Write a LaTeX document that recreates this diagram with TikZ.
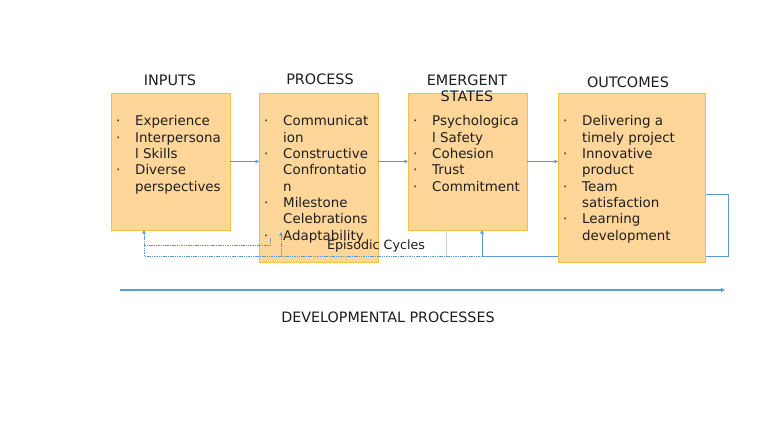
\documentclass[tikz,border=0pt]{standalone}
\usepackage{fontspec}
\setmainfont{DejaVu Sans}
\usetikzlibrary{arrows.meta}
\definecolor{boxfill}{HTML}{FFD699}
\definecolor{boxline}{HTML}{F4C048}
\definecolor{flowc}{HTML}{5B9BD5}
\definecolor{faintc}{HTML}{BDD7EE}
\definecolor{txt}{HTML}{1E1E1E}
\newcommand{\bodyfont}{\fontsize{13.4}{16.3}\selectfont}
\begin{document}
\begin{tikzpicture}[x=1pt,y=-1pt,
  box/.style={draw=boxline, fill=boxfill, line width=0.9pt, anchor=north west, inner sep=0pt, outer sep=0pt},
  body/.style={anchor=base west, inner sep=0pt, text=txt, font=\bodyfont},
  ttl/.style={anchor=base, inner sep=0pt, text=txt, font=\fontsize{14.4}{16}\selectfont},
  flow/.style={draw=flowc, line width=0.8pt, -{Triangle[length=3.5pt,width=3.5pt]}},
  flowdot/.style={draw=flowc, line width=0.9pt, dash pattern=on 1.5pt off 0.8pt},
  tipup/.style={-{Triangle[length=3.5pt,width=3.5pt]}}]
\useasboundingbox (0,0) rectangle (768,433);
\fill[white] (0,0) rectangle (768,433);

% boxes
\node[box, minimum width=119pt, minimum height=137pt] (in) at (111,93) {};
\node[box, minimum width=119pt, minimum height=169pt] (proc) at (259,93) {};
\node[box, minimum width=119pt, minimum height=137pt] (em) at (408,93) {};

% coordinates for the feedback loops
\coordinate (fbR) at (705,194);
\coordinate (cR) at (728,194);
\coordinate (cRb) at (728,256);
\coordinate (xE) at (482,256);
\coordinate (xP) at (281,256);
\coordinate (xPtip) at (281,232);
\coordinate (xI) at (144,256);
\coordinate (xIm) at (144,245);
\coordinate (sP) at (270,238);
\coordinate (sPb) at (270,245);
\coordinate (fv) at (446,256);
\coordinate (devA) at (120,290);
\coordinate (devB) at (725,290);

% forward arrows
\draw[flow] (in.east) -- (in.east -| proc.west);
\draw[flow] (proc.east |- em.west) -- (em.west);

% feedback loops
\draw[faintc, line width=0.8pt] (em.south -| fv) -- (fv);
\draw[flowc, line width=0.8pt] (fbR) -- (cR) -- (cRb) -- (xE);
\draw[flowc, line width=0.8pt, tipup] (xE) -- (em.south -| xE);
\draw[flowdot] (xE) -- (xI);
\draw[flowdot, tipup] (xP) -- (xPtip);
\draw[flowdot, tipup] (xI) -- (in.south -| xI);
\draw[flowdot] (sP) -- (sPb) -- (xIm);

% developmental processes arrow
\draw[flowc, line width=1.3pt, -{Triangle[length=4pt,width=4pt]}] (devA) -- (devB);

% outcomes box (drawn over the loop line)
\node[box, minimum width=147pt, minimum height=169pt] (out) at (558,93) {};
\draw[flow] (em.east) -- (em.east -| out.west);

% titles
\node[ttl] (tin) at (170,86) {INPUTS};
\node[ttl] (tproc) at (320,85) {PROCESS};
\node[ttl] (tem) at (467,86) {\begin{tabular}[t]{@{}c@{}}EMERGENT\\[-0.5pt]STATES\end{tabular}};
\node[ttl] (tout) at (628,88) {OUTCOMES};
\node[ttl, font=\fontsize{14.3}{16}\selectfont] (tdev) at (388,322) {DEVELOPMENTAL PROCESSES};

% box contents
\node[body] (lin) at (116,126) {\begin{tabular}[t]{@{}p{19pt}@{}l@{}}
·& Experience\\
·& Interpersona\\
 & l Skills\\
·& Diverse\\
 & perspectives
\end{tabular}};
\node[body] (lproc) at (264,126) {\begin{tabular}[t]{@{}p{19pt}@{}l@{}}
·& Communicat\\
 & ion\\
·& Constructive\\
 & Confrontatio\\
 & n\\
·& Milestone\\
 & Celebrations\\
·& Adaptability
\end{tabular}};
\node[body] (lem) at (413,126) {\begin{tabular}[t]{@{}p{19pt}@{}l@{}}
·& Psychologica\\
 & l Safety\\
·& Cohesion\\
·& Trust\\
·& Commitment
\end{tabular}};
\node[body] (lout) at (563,126) {\begin{tabular}[t]{@{}p{19pt}@{}l@{}}
·& Delivering a\\
 & timely project\\
·& Innovative\\
 & product\\
·& Team\\
 & satisfaction\\
·& Learning\\
 & development
\end{tabular}};

\node[anchor=base, inner sep=0pt, text=txt, font=\fontsize{12.7}{15}\selectfont] (epi) at (376,249) {Episodic Cycles};
\end{tikzpicture}
\end{document}
